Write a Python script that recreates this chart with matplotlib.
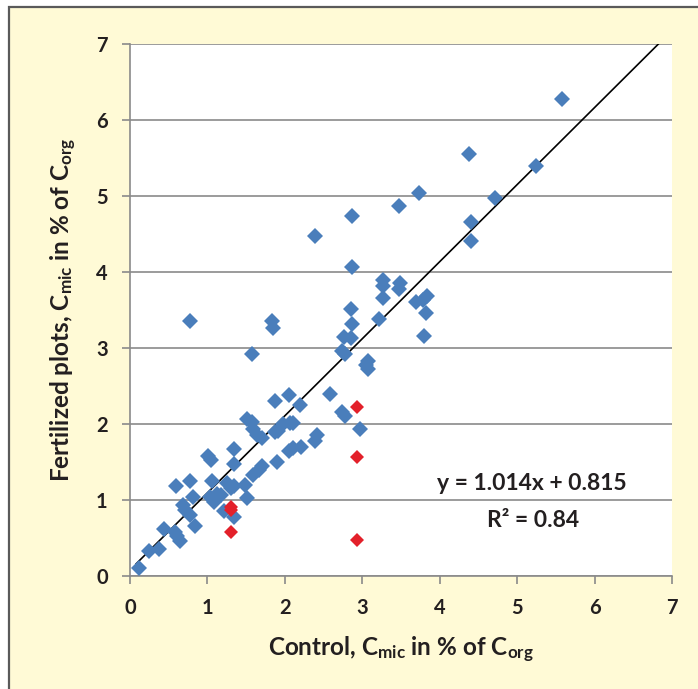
import matplotlib
matplotlib.use("Agg")
import matplotlib.pyplot as plt
from matplotlib.patches import Rectangle
import numpy as np

# control vs fertilized plots, C_mic in % of C_org
control = [
    0.12, 0.25, 0.37, 0.44, 0.58, 0.61, 0.64, 0.60, 0.77, 0.68,
    0.71, 0.77, 0.82, 0.84, 0.78, 1.01, 1.04, 1.34, 1.34, 1.06,
    1.03, 1.08, 1.12, 1.18, 1.25, 1.31, 1.34, 1.21, 1.34, 1.49,
    1.51, 1.59, 1.66, 1.70, 1.90, 2.05, 2.11, 2.21, 2.39, 2.41,
    1.51, 1.57, 1.59, 1.64, 1.70, 1.87, 1.91, 1.98, 2.07, 2.11,
    1.87, 2.05, 2.20, 2.58, 2.74, 2.78, 2.97, 1.58, 1.84, 1.85,
    2.39, 2.87, 2.87, 3.27, 3.27, 3.27, 3.49, 3.48, 3.83, 3.70,
    3.78, 3.82, 3.80, 3.22, 2.85, 2.87, 2.77, 2.85, 2.74, 2.78,
    3.07, 3.05, 3.07, 3.48, 3.73, 4.38, 4.40, 4.40, 4.72, 5.24,
    5.58,
]
fertilized = [
    0.11, 0.33, 0.35, 0.62, 0.58, 0.52, 0.46, 1.18, 1.25, 0.93,
    0.87, 0.80, 1.04, 0.66, 3.36, 1.58, 1.52, 1.67, 1.48, 1.25,
    1.04, 0.97, 1.08, 1.07, 1.22, 1.16, 1.19, 0.85, 0.78, 1.20,
    1.03, 1.33, 1.40, 1.45, 1.50, 1.65, 1.69, 1.70, 1.77, 1.86,
    2.07, 2.03, 1.93, 1.86, 1.82, 1.89, 1.91, 2.00, 2.01, 2.01,
    2.30, 2.38, 2.25, 2.39, 2.16, 2.10, 1.93, 2.92, 3.36, 3.26,
    4.48, 4.74, 4.06, 3.89, 3.81, 3.66, 3.85, 3.77, 3.69, 3.61,
    3.63, 3.46, 3.16, 3.38, 3.51, 3.32, 3.15, 3.13, 2.96, 2.92,
    2.83, 2.78, 2.72, 4.87, 5.04, 5.55, 4.66, 4.41, 4.98, 5.40,
    6.27,
]
# outliers shown in red
out_control = [2.93, 2.93, 2.93, 1.31, 1.31, 1.31]
out_fertilized = [2.23, 1.57, 0.48, 0.91, 0.87, 0.58]

ticks = [0, 1, 2, 3, 4, 5, 6, 7]
slope = 1.014
line_intercept = 0.08  # where the drawn trend line actually sits
eq_text = "y = 1.014x + 0.815"
r2_text = "R\u00b2 = 0.84"

DARK = "#231f20"
GRID = "#8a8a8a"

plt.rcParams["font.family"] = ["Lato", "DejaVu Sans"]
plt.rcParams["font.weight"] = "bold"

fig = plt.figure(figsize=(6.98, 6.89), dpi=100)
fig.patch.set_facecolor("white")

# yellow panel with a dark border on the left/top
panel = Rectangle((9 / 698, -0.05), 1.1, 0.05 + (689 - 7) / 689,
                  transform=fig.transFigure, facecolor="#fffad6",
                  edgecolor="#5a5a5a", linewidth=1.6, zorder=-10)
fig.patches.append(panel)

ax = fig.add_axes([130 / 698, (689 - 576) / 689, 542 / 698, 532 / 689])
ax.set_facecolor("white")

ax.set_xlim(0, 7)
ax.set_ylim(0, 7)
ax.set_xticks(ticks)
ax.set_yticks(ticks)

for s in ["top", "right"]:
    ax.spines[s].set_visible(False)
for s in ["left", "bottom"]:
    ax.spines[s].set_color(GRID)
    ax.spines[s].set_linewidth(1.2)

ax.yaxis.grid(True, color=GRID, linewidth=1.2)
ax.set_axisbelow(True)
ax.tick_params(direction="out", length=6, width=1.2, color=GRID, pad=10,
               labelsize=14.5, labelcolor=DARK)

xs = np.array([0.08, 7.0])
ax.plot(xs, slope * xs + line_intercept, color="black", linewidth=1.2, zorder=2)

ax.plot(control, fertilized, linestyle="none", marker="D", markersize=8.5,
        color="#4a7ebb", markeredgewidth=0, zorder=3)
ax.plot(out_control, out_fertilized, linestyle="none", marker="D", markersize=7.5,
        color="#e3202a", markeredgewidth=0, zorder=4)

ax.text(5.19, 1.22, eq_text, ha="center", va="center", fontsize=16.5,
        fontweight="bold", color=DARK)
ax.text(5.2, 0.73, r2_text, ha="center", va="center", fontsize=16.5,
        fontweight="bold", color=DARK)

ax.set_xlabel(r"Control, $\mathregular{C_{mic}}$ in % of $\mathregular{C_{org}}$",
              fontweight="bold", fontsize=17.5, color=DARK, labelpad=12)
ax.set_ylabel(r"Fertilized plots, $\mathregular{C_{mic}}$ in % of $\mathregular{C_{org}}$",
              fontweight="bold", fontsize=17.5, color=DARK, labelpad=12)

plt.savefig("out.png", dpi=100)
